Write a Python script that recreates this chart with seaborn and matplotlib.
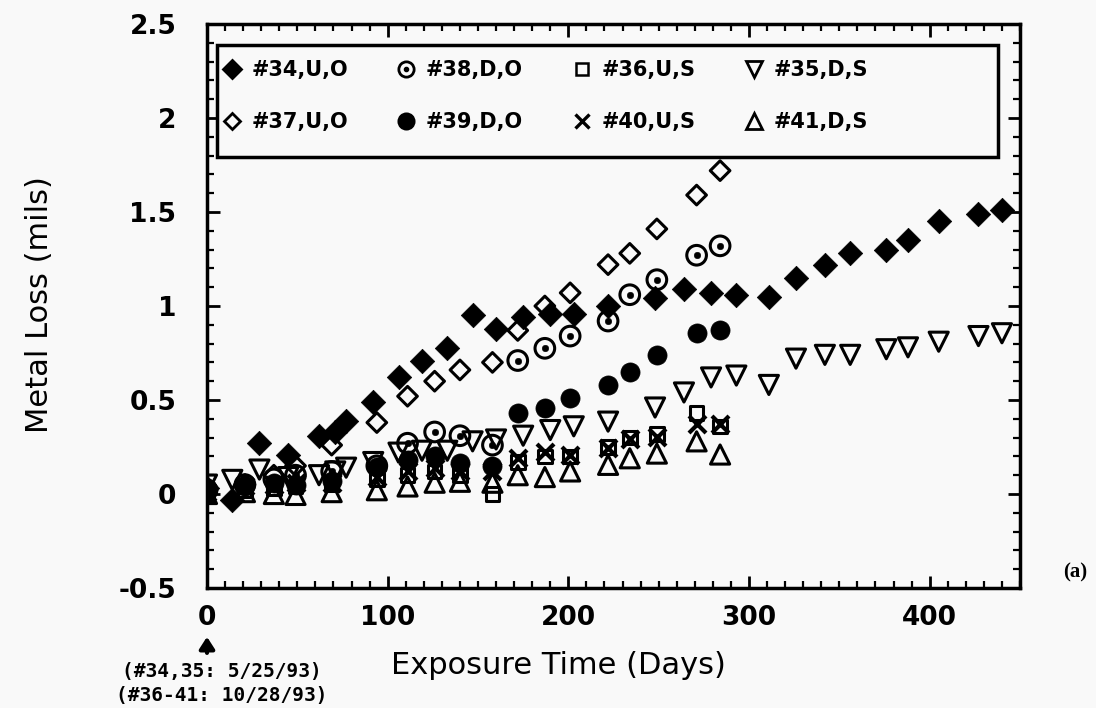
import numpy as np
import pandas as pd
import seaborn as sns
import matplotlib
matplotlib.use("Agg")
import matplotlib.pyplot as plt
from matplotlib.lines import Line2D
from matplotlib.patches import Rectangle
from matplotlib.legend_handler import HandlerTuple
from matplotlib.ticker import MultipleLocator

# ---- data ----
days_a = [0, 14, 29, 45, 62, 71, 77, 92, 106, 119, 133, 147, 160, 175, 190, 203, 222,
          248, 264, 279, 293, 311, 326, 342, 356, 376, 388, 405, 427, 440]
s34 = [0.03, -0.03, 0.27, 0.21, 0.31, 0.33, 0.39, 0.49, 0.62, 0.71, 0.775, 0.95, 0.88,
       0.94, 0.96, 0.96, 1.00, 1.04, 1.09, 1.07, 1.06, 1.05, 1.15, 1.22, 1.28, 1.30,
       1.35, 1.45, 1.49, 1.51]
s35 = [0.05, 0.075, 0.13, 0.09, 0.10, 0.12, 0.14, 0.17, 0.22, 0.23, 0.23, 0.28, 0.29,
       0.31, 0.34, 0.36, 0.385, 0.46, 0.54, 0.62, 0.63, 0.58, 0.72, 0.74, 0.74, 0.77,
       0.78, 0.81, 0.84, 0.855]

days_b = [0, 21, 37, 49, 69, 94, 111, 126, 140, 158, 172, 187, 201, 222, 234, 249, 271, 284]
s36 = [0.00, 0.02, 0.03, 0.04, 0.05, 0.08, 0.10, 0.12, 0.10, 0.00, 0.17, 0.20, 0.20,
       0.25, 0.30, 0.32, 0.43, 0.36]
s37 = [0.02, 0.05, 0.10, 0.15, 0.26, 0.38, 0.52, 0.60, 0.66, 0.70, 0.87, 1.00, 1.07,
       1.22, 1.28, 1.41, 1.59, 1.72]
s38 = [0.02, 0.05, 0.08, 0.10, 0.12, 0.15, 0.27, 0.33, 0.31, 0.26, 0.71, 0.775, 0.84,
       0.92, 1.06, 1.14, 1.27, 1.32]
s39 = [0.03, 0.04, 0.06, 0.05, 0.07, 0.145, 0.18, 0.20, 0.165, 0.15, 0.43, 0.46, 0.51,
       0.58, 0.65, 0.74, 0.855, 0.875]
s40 = [0.01, 0.04, 0.05, 0.06, 0.06, 0.09, 0.12, 0.14, 0.12, 0.12, 0.19, 0.225, 0.21,
       0.245, 0.29, 0.305, 0.37, 0.375]
s41 = [0.00, 0.01, 0.00, -0.005, 0.01, 0.02, 0.04, 0.06, 0.065, 0.06, 0.10, 0.09, 0.12,
       0.155, 0.19, 0.215, 0.28, 0.21]

labels = {"34": "#34,U,O", "35": "#35,D,S", "36": "#36,U,S", "37": "#37,U,O",
          "38": "#38,D,O", "39": "#39,D,O", "40": "#40,U,S", "41": "#41,D,S"}

x_ticks = [0, 100, 200, 300, 400]
y_ticks = [-0.5, 0, 0.5, 1, 1.5, 2, 2.5]
y_ticklabels = ["-0.5", "0", "0.5", "1", "1.5", "2", "2.5"]

# ---- style ----
sns.set_style("ticks")
plt.rcParams["font.family"] = ["DejaVu Sans"]
plt.rcParams["text.color"] = "black"

W, H = 1096, 708
fig = plt.figure(figsize=(W / 100, H / 100), dpi=100)
fig.patch.set_facecolor("#f9f9f9")
ax = fig.add_axes([207 / W, 1 - 588 / H, (1020 - 207) / W, (588 - 24) / H])
ax.set_facecolor("#f9f9f9")

K = "black"
LW = 2.2

def scat(x, y, marker, s, filled, lw=None):
    if lw is None:
        lw = 0.5 if filled else LW
    sns.scatterplot(x=x, y=y, ax=ax, marker=marker, s=s,
                    color=K if filled else "none",
                    edgecolor=K, linewidth=lw, legend=False, zorder=3)

# draw series
scat(days_b, s41, "^", 190, False)
scat(days_b, s36, "s", 95, False)
sns.scatterplot(x=days_b, y=s40, ax=ax, marker="x", s=150, color=K,
                linewidth=3.0, legend=False, zorder=3)
scat(days_a, s35, "v", 190, False)
scat(days_b, s39, "o", 190, True)
scat(days_b, s38, "o", 200, False)
sns.scatterplot(x=days_b, y=s38, ax=ax, marker="o", s=22, color=K, edgecolor=K,
                legend=False, zorder=4)
scat(days_b, s37, "D", 100, False)
scat(days_a, s34, "D", 155, True)

ax.set_xlim(0, 450)
ax.set_ylim(-0.5, 2.5)
ax.set_xticks(x_ticks)
ax.set_yticks(y_ticks)
ax.set_yticklabels(y_ticklabels)
ax.xaxis.set_minor_locator(MultipleLocator(10))
ax.yaxis.set_minor_locator(MultipleLocator(0.1))
ax.tick_params(which="both", direction="in", top=True, right=True, width=2, colors=K)
ax.tick_params(which="major", length=9, labelsize=19)
ax.tick_params(axis="x", which="major", pad=12)
ax.tick_params(axis="y", which="major", pad=22)
ax.tick_params(which="minor", length=5, width=1.6)
for lab in ax.get_xticklabels() + ax.get_yticklabels():
    lab.set_fontweight("bold")
for sp in ax.spines.values():
    sp.set_linewidth(2.5)
    sp.set_visible(True)
    sp.set_color(K)
ax.set_xlabel("")
ax.set_ylabel("")

# ---- legend ----
def h(marker, ms, filled, mew=2.0):
    return Line2D([], [], linestyle="none", marker=marker, markersize=ms,
                  markerfacecolor=K if filled else "none", markeredgecolor=K,
                  markeredgewidth=mew)

h34 = h("D", 9, True)
h37 = h("D", 8, False)
h38 = (h("o", 11, False), h("o", 3, True, 1))
h39 = h("o", 11, True)
h36 = h("s", 8, False, 1.8)
h40 = h("x", 10, True, 2.4)
h35 = h("v", 12, False)
h41 = h("^", 12, False)
handles = [h34, h37, h38, h39, h36, h40, h35, h41]
labs = [labels[k] for k in ["34", "37", "38", "39", "36", "40", "35", "41"]]

# legend frame (box drawn in axes coordinates)
box = Rectangle(((217 - 207) / 813, (588 - 157) / 564), (998 - 217) / 813,
                (157 - 45) / 564, transform=ax.transAxes, facecolor="#f9f9f9",
                edgecolor=K, linewidth=2.5, zorder=5)
ax.add_patch(box)
leg = ax.legend(handles, labs, ncol=4, loc="upper left",
                bbox_to_anchor=((219 - 207) / 813, (588 - 60) / 564),
                frameon=False, borderpad=0, borderaxespad=0,
                labelspacing=1.55, handletextpad=0.35, columnspacing=2.2,
                handlelength=1.2, labelcolor=K,
                prop={"weight": "bold", "size": 15},
                handler_map={tuple: HandlerTuple(ndivide=1)})
leg.set_zorder(6)

# ---- labels and annotations ----
fig.text(40 / W, 1 - 305 / H, "Metal Loss (mils)", rotation=90, ha="center",
         va="center", fontsize=22, color=K)
fig.text(558 / W, 1 - 665 / H, "Exposure Time (Days)", ha="center", va="center",
         fontsize=22, color=K)
ax.annotate("", xy=(0, -0.745), xytext=(0, -0.86), xycoords="data",
            arrowprops=dict(arrowstyle="-|>,head_width=0.45,head_length=0.7",
                            color=K, lw=3), annotation_clip=False)
fig.text(222 / W, 1 - 672 / H, "(#34,35: 5/25/93)", ha="center", va="center",
         fontsize=14, fontweight="bold", family="DejaVu Sans Mono", color=K)
fig.text(222 / W, 1 - 695 / H, "(#36-41: 10/28/93)", ha="center", va="center",
         fontsize=14, fontweight="bold", family="DejaVu Sans Mono", color=K)
fig.text(1075 / W, 1 - 572 / H, "(a)", ha="center", va="center",
         fontsize=15, fontweight="bold", family="Liberation Serif", color=K)

fig.savefig("out.png", dpi=100, facecolor=fig.get_facecolor())
